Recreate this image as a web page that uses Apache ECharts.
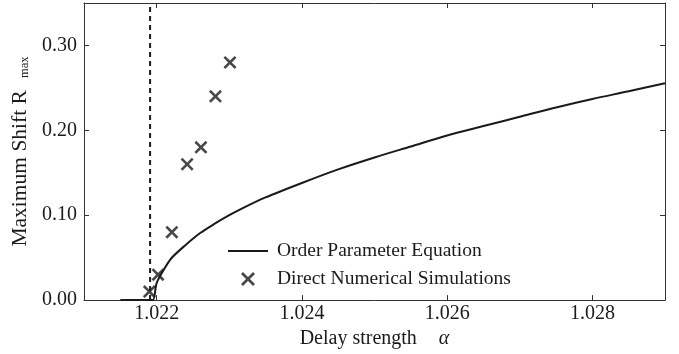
<!DOCTYPE html>
<html>
<head>
<meta charset="utf-8">
<script src="https://cdn.jsdelivr.net/npm/echarts@6/dist/echarts.min.js"></script>
<style>
  html, body { margin: 0; padding: 0; background: #fff; }
  #chart { width: 679px; height: 354px; }
</style>
</head>
<body>
<div id="chart"></div>
<script>
// Order parameter equation curve
const curveAlpha = [1.0215, 1.0219, 1.02195, 1.0220, 1.02208, 1.0222, 1.0224, 1.0226, 1.0228, 1.0230,
  1.0232, 1.0235, 1.0240, 1.0245, 1.0250, 1.0255, 1.0260, 1.0265, 1.0270, 1.0275, 1.0280, 1.0285, 1.0290];
const curveR = [0, 0, 0, 0.020, 0.033, 0.049, 0.065, 0.079, 0.090, 0.100,
  0.109, 0.121, 0.138, 0.154, 0.168, 0.181, 0.194, 0.205, 0.216, 0.227, 0.237, 0.246, 0.2555];

// Direct numerical simulations
const simAlpha = [1.0219, 1.02202, 1.02221, 1.02242, 1.02261, 1.02281, 1.02301];
const simR = [0.01, 0.03, 0.08, 0.16, 0.18, 0.24, 0.28];

// critical delay strength (dashed line)
const thresholdAlpha = 1.02191;

const xTicks = [1.022, 1.024, 1.026, 1.028];
const yTicks = [0.00, 0.10, 0.20, 0.30];

const FONT = 'Liberation Serif';
const INK = '#1a1a1a';
const crossPath = 'path://M0,1.4 L1.4,0 L5,3.6 L8.6,0 L10,1.4 L6.4,5 L10,8.6 L8.6,10 L5,6.4 L1.4,10 L0,8.6 L3.6,5 Z';

const chart = echarts.init(document.getElementById('chart'));

const frameLine = { show: true, onZero: false, lineStyle: { color: '#333', width: 1 } };
const innerTick = { show: true, inside: true, length: 5, lineStyle: { color: '#333', width: 1 } };

chart.setOption({
  animation: false,
  grid: { left: 84, right: 14, top: 3, bottom: 53 },
  legend: {
    orient: 'vertical',
    left: 223,
    top: 236,
    itemWidth: 40,
    itemHeight: 14,
    itemGap: 8,
    data: [
      { name: 'Order Parameter Equation', icon: 'path://M0,0 L40,0 L40,2 L0,2 Z' },
      { name: 'Direct Numerical Simulations', icon: crossPath }
    ],
    textStyle: { fontFamily: FONT, fontSize: 19.5, color: INK, padding: [0, 0, 0, 4] },
    itemStyle: { color: INK }
  },
  xAxis: [{
    type: 'value',
    min: 1.021,
    max: 1.029,
    axisLine: frameLine,
    axisTick: Object.assign({ customValues: xTicks }, innerTick),
    axisLabel: {
      customValues: xTicks,
      formatter: v => v.toFixed(3),
      fontFamily: FONT, fontSize: 20, color: INK, margin: 4
    },
    splitLine: { show: false },
    name: '{t|Delay strength}{g|}{a|α}',
    nameLocation: 'middle',
    nameGap: 26,
    nameTextStyle: {
      rich: {
        t: { fontFamily: FONT, fontSize: 20, color: INK },
        g: { width: 22 },
        a: { fontFamily: FONT, fontSize: 20, fontStyle: 'italic', color: INK }
      }
    }
  }, {
    type: 'value',
    position: 'top',
    min: 1.021,
    max: 1.029,
    axisLine: frameLine,
    axisTick: Object.assign({ customValues: xTicks }, innerTick),
    axisLabel: { show: false },
    splitLine: { show: false }
  }],
  yAxis: [{
    type: 'value',
    min: 0,
    max: 0.35,
    axisLine: frameLine,
    axisTick: Object.assign({ customValues: yTicks }, innerTick),
    axisLabel: {
      customValues: yTicks,
      formatter: v => v.toFixed(2),
      fontFamily: FONT, fontSize: 20, color: INK, margin: 7
    },
    splitLine: { show: false },
    name: '{t|Maximum Shift R}{g|}{s|max}',
    nameLocation: 'middle',
    nameGap: 47,
    nameTextStyle: {
      rich: {
        t: { fontFamily: FONT, fontSize: 21.5, color: INK },
        g: { width: 12 },
        s: { fontFamily: FONT, fontSize: 12.5, color: INK, verticalAlign: 'bottom', padding: [6, 0, 0, 0] }
      }
    }
  }, {
    type: 'value',
    position: 'right',
    min: 0,
    max: 0.35,
    axisLine: frameLine,
    axisTick: Object.assign({ customValues: yTicks }, innerTick),
    axisLabel: { show: false },
    splitLine: { show: false }
  }],
  series: [{
    name: 'threshold',
    type: 'line',
    data: [[thresholdAlpha, 0], [thresholdAlpha, 0.35]],
    symbol: 'none',
    silent: true,
    lineStyle: { color: INK, width: 2, type: [5, 4] },
    z: 1
  }, {
    name: 'Order Parameter Equation',
    type: 'line',
    data: curveAlpha.map((a, i) => [a, curveR[i]]),
    symbol: 'none',
    smooth: 0.3,
    lineStyle: { color: INK, width: 2 },
    itemStyle: { color: INK },
    z: 3
  }, {
    name: 'Direct Numerical Simulations',
    type: 'scatter',
    data: simAlpha.map((a, i) => [a, simR[i]]),
    symbol: crossPath,
    symbolSize: 13,
    itemStyle: { color: INK },
    z: 4
  }]
});
</script>
</body>
</html>
